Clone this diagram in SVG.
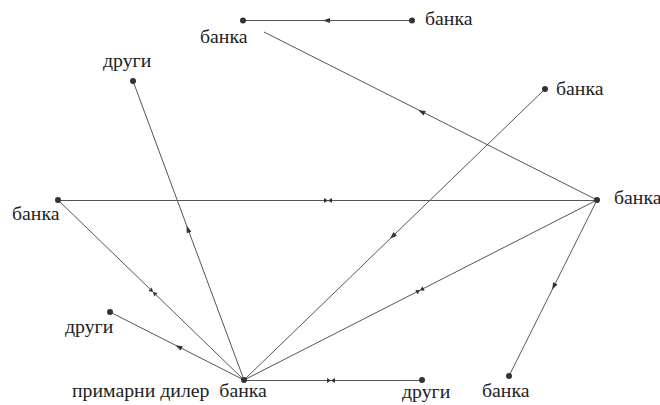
<svg xmlns="http://www.w3.org/2000/svg" xmlns:xlink="http://www.w3.org/1999/xlink" width="660" height="405" viewBox="0 0 660 405">
<style>
.e{stroke:#555;stroke-width:1;fill:none}
.d{fill:#333}
.t{font-family:"Liberation Serif","Times New Roman","DejaVu Serif",serif;font-size:19.8px;fill:#222;white-space:pre}
.m{fill:#333}
</style>
<defs>
<path id="arr" d="M4,0 L-3,-2.5 L-3,2.5 Z"/>
<path id="bow" d="M-4,-2.5 L0,0 L-4,2.5 Z M4,-2.5 L0,0 L4,2.5 Z"/>
</defs>
<rect width="660" height="405" fill="#fff"/>
<g id="connectors">
<line class="e" x1="412" y1="20.5" x2="243" y2="20.5"/>
<line class="e" x1="264" y1="32" x2="597" y2="200"/>
<line class="e" x1="58" y1="200.5" x2="597" y2="200.5"/>
<line class="e" x1="244" y1="380" x2="133" y2="81"/>
<line class="e" x1="58" y1="200" x2="244" y2="380"/>
<line class="e" x1="244" y1="380" x2="110" y2="312"/>
<line class="e" x1="244" y1="380" x2="545" y2="89"/>
<line class="e" x1="244" y1="380" x2="597" y2="200"/>
<line class="e" x1="597" y1="200" x2="509" y2="376"/>
<line class="e" x1="244" y1="380.5" x2="422" y2="380.5"/>
<use class="m" xlink:href="#arr" transform="translate(327,20.5) rotate(180)"/>
<use class="m" xlink:href="#arr" transform="translate(422,112) rotate(206.8)"/>
<use class="m" xlink:href="#arr" transform="translate(188,229.5) rotate(-110.4)"/>
<use class="m" xlink:href="#arr" transform="translate(179,347) rotate(206.9)"/>
<use class="m" xlink:href="#arr" transform="translate(393,236) rotate(136)"/>
<use class="m" xlink:href="#arr" transform="translate(554,286) rotate(116.6)"/>
<use class="m" xlink:href="#bow" transform="translate(328,200.5)"/>
<use class="m" xlink:href="#bow" transform="translate(153,292) rotate(44)"/>
<use class="m" xlink:href="#bow" transform="translate(420,290.3) rotate(-27)"/>
<use class="m" xlink:href="#bow" transform="translate(331,380.5)"/>
</g>
<g id="n-top-left"><circle class="d" cx="243" cy="20.5" r="3"/><text class="t" x="200" y="43">банка</text></g>
<g id="n-top-right"><circle class="d" cx="412" cy="20.5" r="3"/><text class="t" x="425" y="25">банка</text></g>
<g id="n-drugi-top"><circle class="d" cx="133" cy="81" r="3"/><text class="t" x="103" y="67">други</text></g>
<g id="n-upper-right"><circle class="d" cx="545" cy="89" r="3"/><text class="t" x="556" y="95">банка</text></g>
<g id="n-right"><circle class="d" cx="597" cy="200" r="3"/><text class="t" x="614" y="204">банка</text></g>
<g id="n-left"><circle class="d" cx="58" cy="200" r="3"/><text class="t" x="12" y="220">банка</text></g>
<g id="n-drugi-left"><circle class="d" cx="110" cy="312" r="3"/><text class="t" x="65" y="333">други</text></g>
<g id="n-primary"><circle class="d" cx="244" cy="380" r="3"/><text class="t" x="72" y="397">примарни дилер  банка</text></g>
<g id="n-drugi-bottom"><circle class="d" cx="422" cy="380" r="3"/><text class="t" x="402" y="398">други</text></g>
<g id="n-bottom-right"><circle class="d" cx="509" cy="376" r="3"/><text class="t" x="482" y="397">банка</text></g>
</svg>
